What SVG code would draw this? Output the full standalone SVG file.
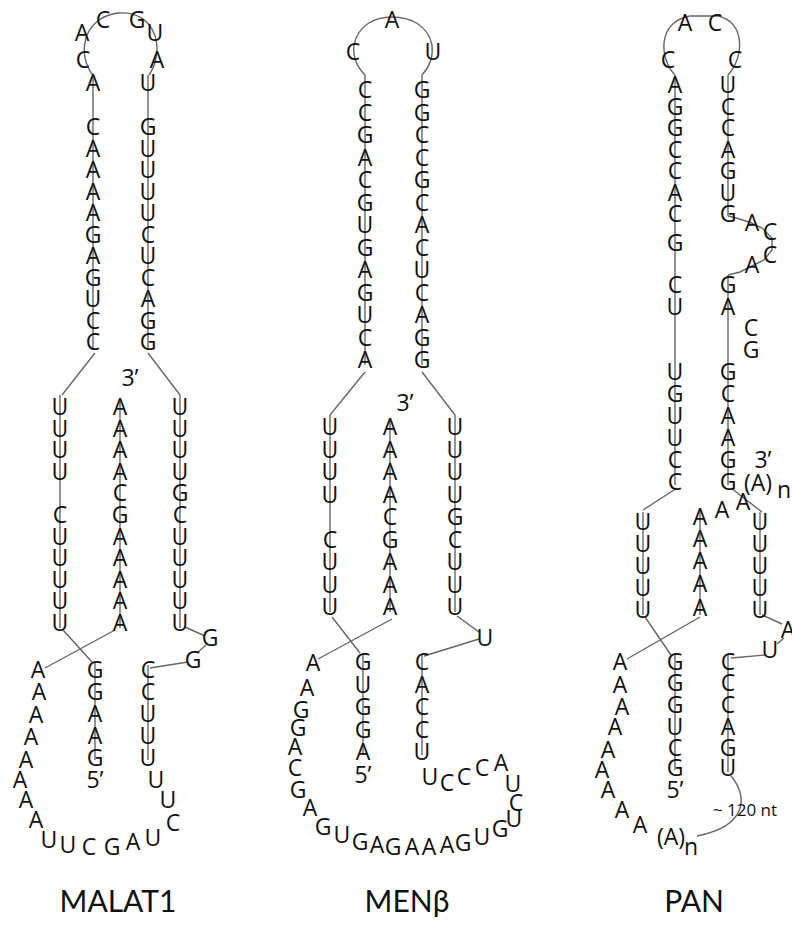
<svg xmlns="http://www.w3.org/2000/svg" width="792" height="926" viewBox="0 0 792 926">
<style>
.nt{font-family:"Open Sans","DejaVu Sans",sans-serif;font-size:23px;fill:#111;text-anchor:middle}
.sm{font-family:"Open Sans","DejaVu Sans",sans-serif;font-size:17px;fill:#111;text-anchor:middle}
.lbl{font-family:Lato,"Noto Sans",sans-serif;font-size:30px;fill:#111;text-anchor:middle}
.ln{stroke:#666;stroke-width:1.4;fill:none}
</style>
<rect width="792" height="926" fill="#fff"/>
<g id="connectors">
<path class="ln" d="M93,75 C78,58 80,18 118,13 C156,10 166,50 149,75"/>
<line class="ln" x1="93" y1="75" x2="93" y2="350"/>
<line class="ln" x1="148" y1="75" x2="148" y2="350"/>
<line class="ln" x1="95" y1="353" x2="62" y2="395"/>
<line class="ln" x1="148" y1="353" x2="180" y2="395"/>
<line class="ln" x1="60" y1="395" x2="60" y2="628"/>
<line class="ln" x1="120" y1="400" x2="120" y2="628"/>
<line class="ln" x1="180" y1="395" x2="180" y2="628"/>
<line class="ln" x1="63" y1="630" x2="92" y2="662"/>
<line class="ln" x1="115" y1="630" x2="45" y2="668"/>
<line class="ln" x1="185" y1="627" x2="205" y2="636"/>
<line class="ln" x1="206" y1="645" x2="197" y2="653"/>
<line class="ln" x1="188" y1="662" x2="150" y2="668"/>
<line class="ln" x1="95" y1="662" x2="95" y2="760"/>
<line class="ln" x1="148" y1="665" x2="148" y2="760"/>
<path class="ln" d="M365,75 Q352,62 354,45 C358,25 375,17 392,17 C410,17 428,25 432,45 Q434,62 422,75"/>
<line class="ln" x1="365" y1="75" x2="365" y2="365"/>
<line class="ln" x1="422" y1="75" x2="422" y2="365"/>
<line class="ln" x1="365" y1="372" x2="330" y2="415"/>
<line class="ln" x1="422" y1="372" x2="455" y2="415"/>
<line class="ln" x1="330" y1="415" x2="330" y2="612"/>
<line class="ln" x1="390" y1="418" x2="390" y2="612"/>
<line class="ln" x1="455" y1="415" x2="455" y2="612"/>
<line class="ln" x1="332" y1="617" x2="360" y2="653"/>
<line class="ln" x1="392" y1="619" x2="318" y2="659"/>
<line class="ln" x1="457" y1="616" x2="479" y2="632"/>
<line class="ln" x1="479" y1="639" x2="424" y2="656"/>
<line class="ln" x1="363" y1="655" x2="363" y2="755"/>
<line class="ln" x1="422" y1="655" x2="422" y2="755"/>
<path class="ln" d="M675,75 C660,60 656,22 690,16 L718,16 C746,22 744,58 728,75"/>
<line class="ln" x1="675" y1="75" x2="675" y2="485"/>
<line class="ln" x1="728" y1="75" x2="728" y2="216"/>
<polyline class="ln" points="728,216 736,218 749,222 762,228 772,238 772,250 764,260 752,266 740,272 728,275"/>
<line class="ln" x1="728" y1="275" x2="728" y2="485"/>
<line class="ln" x1="677" y1="488" x2="643" y2="510"/>
<line class="ln" x1="731" y1="488" x2="762" y2="512"/>
<line class="ln" x1="643" y1="512" x2="643" y2="615"/>
<line class="ln" x1="700" y1="510" x2="700" y2="615"/>
<line class="ln" x1="760" y1="512" x2="760" y2="615"/>
<line class="ln" x1="762" y1="615" x2="782" y2="624"/>
<line class="ln" x1="784" y1="638" x2="777" y2="644"/>
<line class="ln" x1="766" y1="655" x2="731" y2="658"/>
<line class="ln" x1="645" y1="617" x2="671" y2="655"/>
<line class="ln" x1="700" y1="617" x2="627" y2="659"/>
<line class="ln" x1="675" y1="655" x2="675" y2="770"/>
<line class="ln" x1="728" y1="655" x2="728" y2="772"/>
<path class="ln" d="M731,776 C748,796 748,826 697,836"/>
</g>
<g id="malat1">
<g id="malat1-loop">
<text class="nt" x="82" y="41">A</text><text class="nt" x="103" y="28">C</text><text class="nt" x="137" y="28">G</text><text class="nt" x="155" y="41">U</text><text class="nt" x="83" y="68">C</text><text class="nt" x="157" y="68">A</text>
</g>
<g id="malat1-stem-left">
<text class="nt" x="93" y="91">A</text><text class="nt" x="93" y="135">C</text><text class="nt" x="93" y="156.5">A</text><text class="nt" x="93" y="178">A</text><text class="nt" x="93" y="199.5">A</text><text class="nt" x="93" y="221">A</text><text class="nt" x="93" y="242.5">G</text><text class="nt" x="93" y="264">A</text><text class="nt" x="93" y="285.5">G</text><text class="nt" x="93" y="307">U</text><text class="nt" x="93" y="328.5">C</text><text class="nt" x="93" y="350">C</text>
</g>
<g id="malat1-stem-right">
<text class="nt" x="148" y="91">U</text><text class="nt" x="148" y="135">G</text><text class="nt" x="148" y="156.5">U</text><text class="nt" x="148" y="178">U</text><text class="nt" x="148" y="199.5">U</text><text class="nt" x="148" y="221">U</text><text class="nt" x="148" y="242.5">C</text><text class="nt" x="148" y="264">U</text><text class="nt" x="148" y="285.5">C</text><text class="nt" x="148" y="307">A</text><text class="nt" x="148" y="328.5">G</text><text class="nt" x="148" y="350">G</text>
</g>
<text class="nt" x="130" y="386">3’</text>
<g id="malat1-u1">
<text class="nt" x="60" y="415">U</text><text class="nt" x="60" y="436.6">U</text><text class="nt" x="60" y="458.2">U</text><text class="nt" x="60" y="479.8">U</text><text class="nt" x="60" y="523">C</text><text class="nt" x="60" y="544.6">U</text><text class="nt" x="60" y="566.2">U</text><text class="nt" x="60" y="587.8">U</text><text class="nt" x="60" y="609.4">U</text><text class="nt" x="60" y="631">U</text>
</g>
<g id="malat1-a">
<text class="nt" x="120" y="415">A</text><text class="nt" x="120" y="436.6">A</text><text class="nt" x="120" y="458.2">A</text><text class="nt" x="120" y="479.8">A</text><text class="nt" x="120" y="501.4">C</text><text class="nt" x="120" y="523">G</text><text class="nt" x="120" y="544.6">A</text><text class="nt" x="120" y="566.2">A</text><text class="nt" x="120" y="587.8">A</text><text class="nt" x="120" y="609.4">A</text><text class="nt" x="120" y="631">A</text>
</g>
<g id="malat1-u2">
<text class="nt" x="180" y="415">U</text><text class="nt" x="180" y="436.6">U</text><text class="nt" x="180" y="458.2">U</text><text class="nt" x="180" y="479.8">U</text><text class="nt" x="180" y="501.4">G</text><text class="nt" x="180" y="523">C</text><text class="nt" x="180" y="544.6">U</text><text class="nt" x="180" y="566.2">U</text><text class="nt" x="180" y="587.8">U</text><text class="nt" x="180" y="609.4">U</text><text class="nt" x="180" y="631">U</text>
<text class="nt" x="210" y="646">G</text><text class="nt" x="193" y="668">G</text>
</g>
<g id="malat1-5p">
<text class="nt" x="95" y="678">G</text><text class="nt" x="95" y="700">G</text><text class="nt" x="95" y="722">A</text><text class="nt" x="95" y="744">A</text><text class="nt" x="95" y="766">G</text><text class="nt" x="95" y="788">5’</text>
</g>
<g id="malat1-lower">
<text class="nt" x="148" y="678">C</text><text class="nt" x="148" y="700">C</text><text class="nt" x="148" y="722">U</text><text class="nt" x="148" y="744">U</text><text class="nt" x="148" y="766">U</text>
<text class="nt" x="156" y="788">U</text><text class="nt" x="168" y="808">U</text><text class="nt" x="173" y="831">C</text><text class="nt" x="153" y="846">U</text><text class="nt" x="133" y="850">A</text><text class="nt" x="112" y="855">G</text><text class="nt" x="89" y="855">C</text><text class="nt" x="68" y="853">U</text><text class="nt" x="49" y="848">U</text><text class="nt" x="36" y="828">A</text><text class="nt" x="26" y="808">A</text><text class="nt" x="20" y="788">A</text><text class="nt" x="26" y="768">A</text><text class="nt" x="31" y="745">A</text><text class="nt" x="36" y="723">A</text><text class="nt" x="39" y="700">A</text><text class="nt" x="38" y="678">A</text>
</g>
<text class="lbl" x="118" y="912">MALAT1</text>
</g>
<g id="menb">
<g id="menb-loop">
<text class="nt" x="392" y="28">A</text><text class="nt" x="353" y="60">C</text><text class="nt" x="433" y="60">U</text>
</g>
<g id="menb-stem-left">
<text class="nt" x="365" y="98">C</text><text class="nt" x="365" y="120.5">C</text><text class="nt" x="365" y="143">G</text><text class="nt" x="365" y="165.5">A</text><text class="nt" x="365" y="188">C</text><text class="nt" x="365" y="210.5">G</text><text class="nt" x="365" y="233">U</text><text class="nt" x="365" y="255.5">G</text><text class="nt" x="365" y="278">A</text><text class="nt" x="365" y="300.5">G</text><text class="nt" x="365" y="323">U</text><text class="nt" x="365" y="345.5">C</text><text class="nt" x="365" y="368">A</text>
</g>
<g id="menb-stem-right">
<text class="nt" x="422" y="98">G</text><text class="nt" x="422" y="120.5">G</text><text class="nt" x="422" y="143">C</text><text class="nt" x="422" y="165.5">C</text><text class="nt" x="422" y="188">G</text><text class="nt" x="422" y="210.5">C</text><text class="nt" x="422" y="233">A</text><text class="nt" x="422" y="255.5">C</text><text class="nt" x="422" y="278">U</text><text class="nt" x="422" y="300.5">C</text><text class="nt" x="422" y="323">A</text><text class="nt" x="422" y="345.5">G</text><text class="nt" x="422" y="368">G</text>
</g>
<text class="nt" x="405" y="411">3’</text>
<g id="menb-u1">
<text class="nt" x="330" y="435">U</text><text class="nt" x="330" y="457.5">U</text><text class="nt" x="330" y="480">U</text><text class="nt" x="330" y="502.5">U</text><text class="nt" x="330" y="547.5">C</text><text class="nt" x="330" y="570">U</text><text class="nt" x="330" y="592.5">U</text><text class="nt" x="330" y="615">U</text>
</g>
<g id="menb-a">
<text class="nt" x="390" y="435">A</text><text class="nt" x="390" y="457.5">A</text><text class="nt" x="390" y="480">A</text><text class="nt" x="390" y="502.5">A</text><text class="nt" x="390" y="525">C</text><text class="nt" x="390" y="547.5">G</text><text class="nt" x="390" y="570">A</text><text class="nt" x="390" y="592.5">A</text><text class="nt" x="390" y="615">A</text>
</g>
<g id="menb-u2">
<text class="nt" x="455" y="435">U</text><text class="nt" x="455" y="457.5">U</text><text class="nt" x="455" y="480">U</text><text class="nt" x="455" y="502.5">U</text><text class="nt" x="455" y="525">G</text><text class="nt" x="455" y="547.5">C</text><text class="nt" x="455" y="570">U</text><text class="nt" x="455" y="592.5">U</text><text class="nt" x="455" y="615">U</text>
<text class="nt" x="485" y="646">U</text>
</g>
<g id="menb-5p">
<text class="nt" x="363" y="670">G</text><text class="nt" x="363" y="692.5">U</text><text class="nt" x="363" y="715">G</text><text class="nt" x="363" y="737.5">G</text><text class="nt" x="363" y="760">A</text><text class="nt" x="363" y="782.5">5’</text>
</g>
<g id="menb-lower">
<text class="nt" x="422" y="670">C</text><text class="nt" x="422" y="692.5">A</text><text class="nt" x="422" y="715">C</text><text class="nt" x="422" y="737.5">C</text><text class="nt" x="422" y="760">U</text>
<text class="nt" x="430" y="785">U</text><text class="nt" x="447" y="791">C</text><text class="nt" x="464" y="785">C</text><text class="nt" x="482" y="776">C</text><text class="nt" x="501" y="771">A</text><text class="nt" x="513" y="792">U</text><text class="nt" x="516" y="811">C</text><text class="nt" x="514" y="827">U</text><text class="nt" x="500" y="837">G</text><text class="nt" x="482" y="845">U</text><text class="nt" x="463" y="851">G</text><text class="nt" x="447" y="853">A</text><text class="nt" x="429" y="855">A</text><text class="nt" x="412" y="855">A</text><text class="nt" x="393" y="855">G</text><text class="nt" x="377" y="853">A</text><text class="nt" x="360" y="850">G</text><text class="nt" x="342" y="843">U</text><text class="nt" x="323" y="835">G</text><text class="nt" x="310" y="816">A</text><text class="nt" x="298" y="798">G</text><text class="nt" x="295" y="776">C</text><text class="nt" x="295" y="755">A</text><text class="nt" x="298" y="736">G</text><text class="nt" x="301" y="718">G</text><text class="nt" x="307" y="696">A</text><text class="nt" x="313" y="671">A</text>
</g>
<text class="lbl" x="407" y="912">MENβ</text>
</g>
<g id="pan">
<g id="pan-loop">
<text class="nt" x="685" y="31">A</text><text class="nt" x="715" y="31">C</text><text class="nt" x="668" y="68">C</text><text class="nt" x="735" y="68">C</text>
</g>
<g id="pan-stem-left">
<text class="nt" x="675" y="93">A</text><text class="nt" x="675" y="114.5">G</text><text class="nt" x="675" y="136">G</text><text class="nt" x="675" y="157.5">C</text><text class="nt" x="675" y="179">C</text><text class="nt" x="675" y="200.5">A</text><text class="nt" x="675" y="222">C</text><text class="nt" x="675" y="251">G</text><text class="nt" x="675" y="293">C</text><text class="nt" x="675" y="315">U</text><text class="nt" x="675" y="380">U</text><text class="nt" x="675" y="402">G</text><text class="nt" x="675" y="424">U</text><text class="nt" x="675" y="446">U</text><text class="nt" x="675" y="468">C</text><text class="nt" x="675" y="490">C</text>
</g>
<g id="pan-stem-right">
<text class="nt" x="728" y="93">U</text><text class="nt" x="728" y="114.5">C</text><text class="nt" x="728" y="136">C</text><text class="nt" x="728" y="157.5">A</text><text class="nt" x="728" y="179">G</text><text class="nt" x="728" y="200.5">U</text><text class="nt" x="728" y="222">G</text><text class="nt" x="752" y="231">A</text><text class="nt" x="770" y="240">C</text><text class="nt" x="770" y="263">C</text><text class="nt" x="752" y="273">A</text><text class="nt" x="728" y="293">G</text><text class="nt" x="728" y="315">A</text><text class="nt" x="751" y="336">C</text><text class="nt" x="751" y="358">G</text><text class="nt" x="728" y="380">G</text><text class="nt" x="728" y="402">C</text><text class="nt" x="728" y="424">A</text><text class="nt" x="728" y="446">A</text><text class="nt" x="728" y="468">G</text><text class="nt" x="728" y="490">G</text>
</g>
<text class="nt" x="763" y="468">3’</text>
<text class="nt" x="758" y="491">(A)</text><text class="nt" x="784" y="498">n</text>
<text class="nt" x="743" y="510">A</text><text class="nt" x="722" y="518">A</text>
<g id="pan-u1">
<text class="nt" x="643" y="530">U</text><text class="nt" x="643" y="552">U</text><text class="nt" x="643" y="574">U</text><text class="nt" x="643" y="596">U</text><text class="nt" x="643" y="618">U</text>
</g>
<g id="pan-a">
<text class="nt" x="700" y="525">A</text><text class="nt" x="700" y="547">A</text><text class="nt" x="700" y="569">A</text><text class="nt" x="700" y="592">A</text><text class="nt" x="700" y="616">A</text>
</g>
<g id="pan-u2">
<text class="nt" x="760" y="530">U</text><text class="nt" x="760" y="552">U</text><text class="nt" x="760" y="574">U</text><text class="nt" x="760" y="596">U</text><text class="nt" x="760" y="618">U</text>
<text class="nt" x="788" y="638">A</text><text class="nt" x="770" y="658">U</text>
</g>
<g id="pan-5p">
<text class="nt" x="675" y="670">G</text><text class="nt" x="675" y="691">G</text><text class="nt" x="675" y="713">G</text><text class="nt" x="675" y="735">U</text><text class="nt" x="675" y="756">C</text><text class="nt" x="675" y="776">G</text><text class="nt" x="675" y="798">5’</text>
</g>
<g id="pan-lower">
<text class="nt" x="728" y="670">C</text><text class="nt" x="728" y="691">C</text><text class="nt" x="728" y="713">C</text><text class="nt" x="728" y="735">A</text><text class="nt" x="728" y="756">G</text><text class="nt" x="728" y="776">U</text>
<text class="nt" x="620" y="670">A</text><text class="nt" x="620" y="693">A</text><text class="nt" x="622" y="715">A</text><text class="nt" x="615" y="735">A</text><text class="nt" x="608" y="758">A</text><text class="nt" x="602" y="778">A</text><text class="nt" x="608" y="798">A</text><text class="nt" x="622" y="818">A</text><text class="nt" x="640" y="833">A</text>
<text class="nt" x="671" y="845">(A)</text><text class="nt" x="691" y="855">n</text>
<text class="sm" x="745" y="816">~ 120 nt</text>
</g>
<text class="lbl" x="694" y="912">PAN</text>
</g>
</svg>
